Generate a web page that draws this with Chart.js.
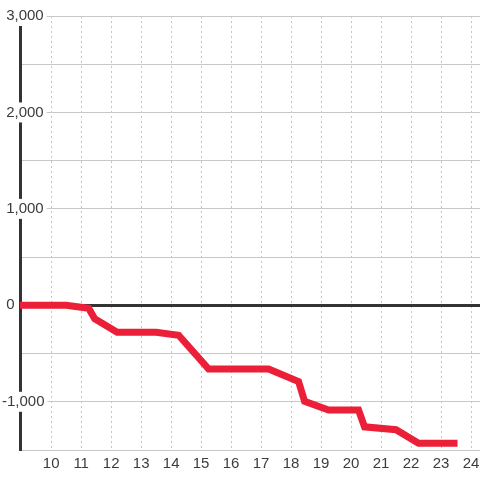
<!DOCTYPE html>
<html>
<head>
<meta charset="utf-8">
<script src="https://cdn.jsdelivr.net/npm/chart.js@4/dist/chart.umd.min.js"></script>
<style>
html, body { margin: 0; padding: 0; background: #fff; }
#wrap { width: 480px; height: 480px; }
</style>
</head>
<body>
<div id="wrap"><canvas id="plot-data"></canvas></div>
<script>
// line data
var hours = [8.9, 10.5, 11.25, 11.45, 12.2, 13.5, 14.25, 15.25, 17.25, 18.25, 18.45, 19.25, 20.25, 20.45, 21.5, 22.25, 23.55];
var balance = [0, 0, -30, -140, -280, -280, -310, -660, -660, -790, -995, -1085, -1085, -1260, -1290, -1430, -1430];

// axis ticks
var xTickValues = [10, 11, 12, 13, 14, 15, 16, 17, 18, 19, 20, 21, 22, 23, 24];
var yGridValues = [-1500, -1000, -500, 0, 500, 1000, 1500, 2000, 2500, 3000];
var yLabeled = [-1000, 0, 1000, 2000, 3000];

var tickFont = { family: '"Liberation Sans", Arial, sans-serif', size: 15 };

var points = [];
for (let i = 0; i < hours.length; i++) {
    points.push({ x: hours[i], y: balance[i] });
}

var ctx = document.getElementById('plot-data').getContext('2d');
var chart = new Chart(ctx, {
    type: 'line',
    data: {
        datasets: [{
            data: points,
            borderColor: '#ec1f39',
            borderWidth: 7,
            borderJoinStyle: 'miter',
            pointRadius: 0,
            tension: 0,
            fill: false
        }]
    },
    options: {
        animation: false,
        responsive: true,
        maintainAspectRatio: false,
        layout: {
            padding: { left: 0, top: 16, right: 0, bottom: 2 }
        },
        plugins: {
            legend: { display: false },
            tooltip: { enabled: false }
        },
        scales: {
            x: {
                type: 'linear',
                min: 8.96,
                max: 24.3,
                afterBuildTicks: function(scale) {
                    scale.ticks = xTickValues.map(v => ({ value: v }));
                },
                afterFit: function(scale) {
                    scale.paddingLeft = 0;
                    scale.paddingRight = 0;
                },
                grid: {
                    color: '#c4c4c4',
                    lineWidth: 1,
                    drawTicks: false
                },
                border: { display: false, dash: [2, 3] },
                ticks: {
                    color: '#3c3c3c',
                    font: tickFont,
                    padding: 5,
                    maxRotation: 0,
                    autoSkip: false
                }
            },
            y: {
                type: 'linear',
                min: -1500,
                max: 3000,
                afterBuildTicks: function(scale) {
                    scale.ticks = yGridValues.map(v => ({ value: v }));
                },
                afterFit: function(scale) {
                    scale.width = 20;
                },
                grid: {
                    drawTicks: false,
                    color: c => (c.tick && c.tick.value === 0) ? '#333' : '#c8c8c8',
                    lineWidth: c => (c.tick && c.tick.value === 0) ? 3 : 1
                },
                border: { color: '#333', width: 3 },
                ticks: {
                    mirror: true,
                    padding: -18,
                    color: '#3c3c3c',
                    font: tickFont,
                    autoSkip: false,
                    callback: function(value) {
                        if (yLabeled.indexOf(value) < 0) return '';
                        // leading space on non-negatives so the minus sign hangs left
                        return (value < 0 ? '' : ' ') + value.toLocaleString('en-US');
                    },
                    showLabelBackdrop: c => yLabeled.indexOf(c.tick.value) >= 0,
                    backdropColor: '#fff',
                    backdropPadding: { top: 1, bottom: 1, left: 0, right: 3 }
                }
            }
        }
    }
});
</script>
</body>
</html>
